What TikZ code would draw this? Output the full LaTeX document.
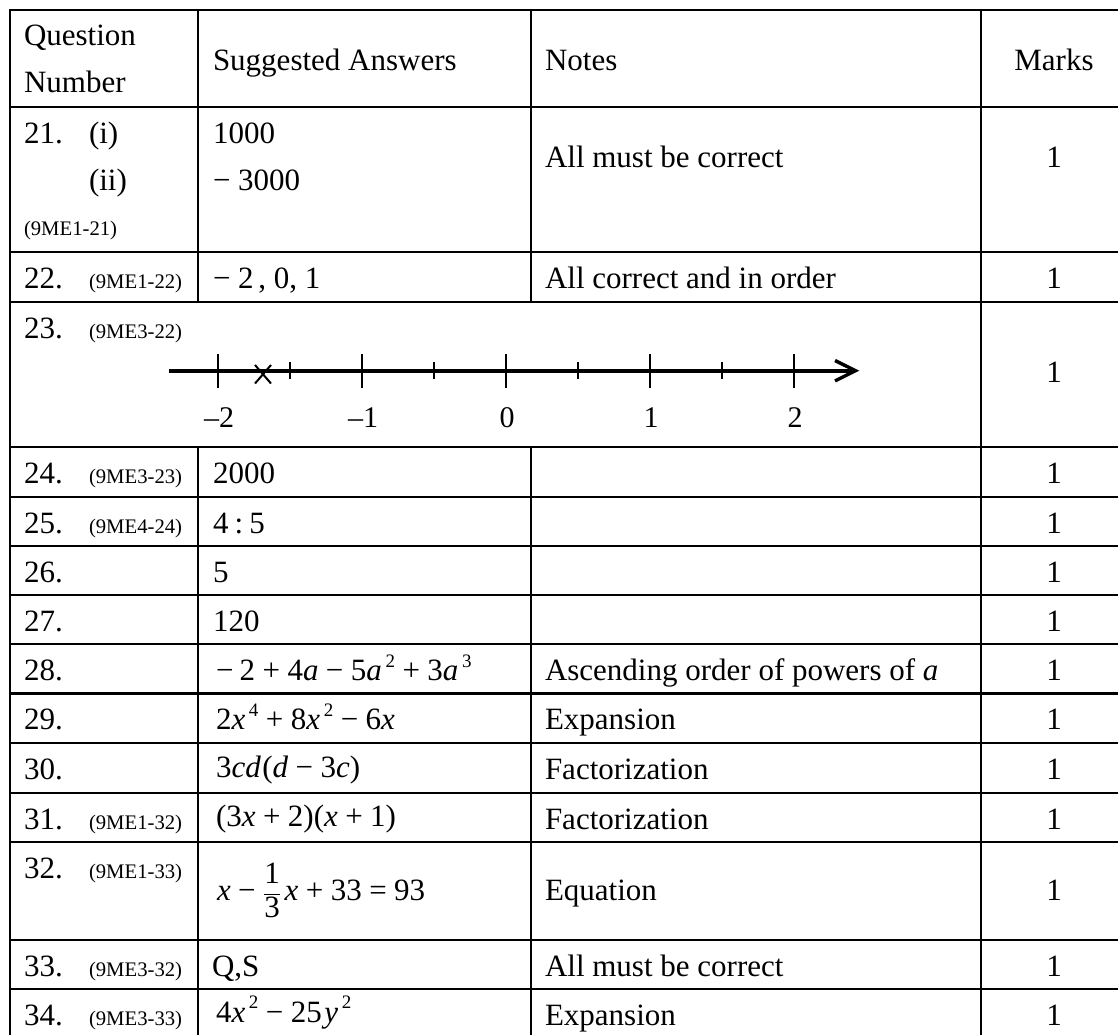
\documentclass[tikz,border=0pt]{standalone}
\usepackage{fontspec}
\setmainfont{Liberation Serif}
\newcommand{\mainf}{\fontsize{31}{46}\selectfont}
\newcommand{\smallf}{\fontsize{20.7}{24}\selectfont}
\newcommand{\nlf}{\fontsize{30}{34}\selectfont}
\newcommand{\vv}[1]{\textit{#1}}
\newcommand{\pw}[1]{\kern0.12em\raisebox{0.42em}{\fontsize{19}{19}\selectfont #1}}
\newcommand{\op}[1]{\kern0.24em#1\kern0.24em}
\tikzset{
  tablerule/.style={line width=2.1pt, line cap=rect},
  cell/.style={anchor=base west, inner sep=0pt, outer sep=0pt, font=\mainf},
  tagcell/.style={anchor=base west, inner sep=0pt, outer sep=0pt, font=\smallf},
  markcell/.style={anchor=base, inner sep=0pt, outer sep=0pt, font=\mainf},
  nlabel/.style={anchor=base, inner sep=0pt, outer sep=0pt, font=\nlf},
  numaxis/.style={line width=4pt},
  majortick/.style={line width=1.6pt},
  minortick/.style={line width=1.6pt},
}
\begin{document}
\begin{tikzpicture}[x=1pt,y=-1pt]
\useasboundingbox (0,0) rectangle (1118,1034);
% ---------- table grid ----------
\foreach \yy in {10,107,252.3,302,446.7,496.7,546,595,644.3,693.5,743.3,793.3,841.7,940,989.3,1039}
  \draw[tablerule] (10,\yy) -- (1135,\yy);
\draw[tablerule] (10,10) -- (10,1045);
\draw[tablerule] (981,10) -- (981,1045);
\draw[tablerule] (198,10) -- (198,302);
\draw[tablerule] (198,446.7) -- (198,1045);
\draw[tablerule] (531,10) -- (531,302);
\draw[tablerule] (531,446.7) -- (531,1045);
% ---------- header ----------
\node[cell] (hq1) at (24,45.5) {Question};
\node[cell] (hq2) at (24,92) {Number};
\node[cell] (hsa) at (213,70) {Suggested Answers};
\node[cell] (hno) at (545,70) {Notes};
\node[markcell] (hmk) at (1054,70) {Marks};
% ---------- row 21 ----------
\node[cell] (q21) at (24,143.3) {21.};
\node[cell] (q21a) at (89,143.3) {(i)};
\node[cell] (q21b) at (89,190) {(ii)};
\node[tagcell] (t21) at (24,235) {(9ME1-21)};
\node[cell] (a21a) at (213,143.3) {1000};
\node[cell] (a21b) at (213,190) {−\kern0.25em3000};
\node[cell] (n21) at (545,167) {All must be correct};
\node[markcell] (m21) at (1054,167) {1};
% ---------- row 22 ----------
\node[cell] (q22) at (24,288.5) {22.};
\node[tagcell] (t22) at (89,288.5) {(9ME1-22)};
\node[cell] (a22) at (213,288.5) {−\kern0.25em2\kern0.15em, 0, 1};
\node[cell] (n22) at (545,288.5) {All correct and in order};
\node[markcell] (m22) at (1054,288.5) {1};
% ---------- row 23 (number line) ----------
\node[cell] (q23) at (24,338.3) {23.};
\node[tagcell] (t23) at (89,338.3) {(9ME3-22)};
\coordinate (nlS) at (169,370.7);
\coordinate (nlE) at (853,370.7);
\draw[numaxis] (nlS) -- (nlE);
\draw[line width=3.4pt, line join=miter, line cap=butt] (835,360.5) -- (855.5,370.7) -- (835,380.9);
\foreach \xx/\lab in {218/{–2},362/{–1},506/{0},650/{1},794/{2}}{
  \draw[majortick] (\xx,354) -- (\xx,387.5);
  \node[nlabel] at (\xx+1,427) {\lab};
}
\foreach \xx in {290,434,578,722}
  \draw[minortick] (\xx,362) -- (\xx,379);
\draw[line width=2pt] (255,365) -- (271,383.5);
\draw[line width=2pt] (271,365) -- (255,383.5);
\node[markcell] (m23) at (1054,382) {1};
% ---------- rows 24-27 ----------
\node[cell] (q24) at (24,483) {24.};
\node[tagcell] (t24) at (89,483) {(9ME3-23)};
\node[cell] (a24) at (213,483) {2000};
\node[markcell] (m24) at (1054,483) {1};
\node[cell] (q25) at (24,533) {25.};
\node[tagcell] (t25) at (89,533) {(9ME4-24)};
\node[cell] (a25) at (213,533) {4\kern0.2em:\kern0.2em5};
\node[markcell] (m25) at (1054,533) {1};
\node[cell] (q26) at (24,582) {26.};
\node[cell] (a26) at (213,582) {5};
\node[markcell] (m26) at (1054,582) {1};
\node[cell] (q27) at (24,631) {27.};
\node[cell] (a27) at (213,631) {120};
\node[markcell] (m27) at (1054,631) {1};
% ---------- rows 28-31 ----------
\node[cell] (q28) at (24,680.5) {28.};
\node[cell] (a28) at (216,680.5) {−\kern0.2em2\op{+}4\vv{a}\op{−}5\vv{a}\pw{2}\op{+}3\vv{a}\pw{3}};
\node[cell] (n28) at (545,680.5) {Ascending order of powers of \textit{a}};
\node[markcell] (m28) at (1054,680.5) {1};
\node[cell] (q29) at (24,729.5) {29.};
\node[cell] (a29) at (216,729.5) {2\vv{x}\pw{4}\op{+}8\vv{x}\pw{2}\op{−}6\vv{x}};
\node[cell] (n29) at (545,729.5) {Expansion};
\node[markcell] (m29) at (1054,729.5) {1};
\node[cell] (q30) at (24,779) {30.};
\node[cell] (a30) at (216,777) {3\vv{cd}\kern0.05em(\vv{d}\op{−}3\vv{c})};
\node[cell] (n30) at (545,779) {Factorization};
\node[markcell] (m30) at (1054,779) {1};
\node[cell] (q31) at (24,829) {31.};
\node[tagcell] (t31) at (89,829) {(9ME1-32)};
\node[cell] (a31) at (216,826) {(3\vv{x}\op{+}2)(\vv{x}\op{+}1)};
\node[cell] (n31) at (545,829) {Factorization};
\node[markcell] (m31) at (1054,829) {1};
% ---------- row 32 ----------
\node[cell] (q32) at (24,878) {32.};
\node[tagcell] (t32) at (89,878) {(9ME1-33)};
\node[cell] (a32) at (217,900) {\vv{x}\op{−}$\displaystyle\frac{\mbox{1}}{\mbox{3}}$\kern0.12em\vv{x}\op{+}33\op{=}93};
\node[cell] (n32) at (545,900) {Equation};
\node[markcell] (m32) at (1054,900) {1};
% ---------- rows 33-34 ----------
\node[cell] (q33) at (24,976) {33.};
\node[tagcell] (t33) at (89,976) {(9ME3-32)};
\node[cell] (a33) at (212,976) {Q,S};
\node[cell] (n33) at (545,976) {All must be correct};
\node[markcell] (m33) at (1054,976) {1};
\node[cell] (q34) at (24,1025) {34.};
\node[tagcell] (t34) at (89,1025) {(9ME3-33)};
\node[cell] (a34) at (216,1022) {4\vv{x}\pw{2}\op{−}25\kern0.08em\vv{y}\pw{2}};
\node[cell] (n34) at (545,1025) {Expansion};
\node[markcell] (m34) at (1054,1025) {1};
\end{tikzpicture}
\end{document}
